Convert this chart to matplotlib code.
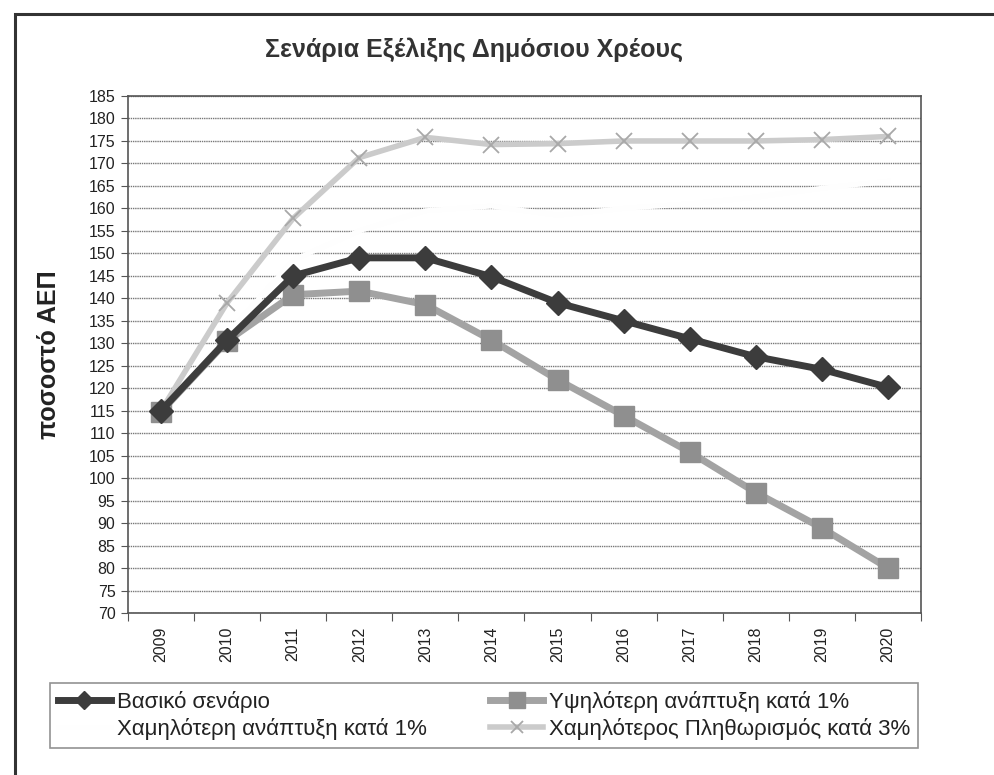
import matplotlib
matplotlib.use("Agg")
import matplotlib.pyplot as plt
from matplotlib.patches import Rectangle
import numpy as np

plt.rcParams['font.family'] = ['Liberation Sans', 'DejaVu Sans']

years = ['2009', '2010', '2011', '2012', '2013', '2014', '2015', '2016', '2017', '2018', '2019', '2020']
basic = [115, 130.7, 145, 149, 149, 144.8, 139, 135, 131, 127, 124.2, 120.2]
higher_growth = [114.8, 130.5, 140.8, 141.6, 138.6, 130.7, 121.9, 113.9, 105.8, 96.8, 88.9, 80]
lower_growth = [115, 132, 148.5, 155, 159.5, 160.5, 158.5, 160, 161, 162.5, 164.5, 166]
lower_inflation = [115, 139, 157.8, 171.3, 175.8, 174.2, 174.4, 175, 175, 175, 175.3, 176]

labels = ['Βασικό σενάριο', 'Υψηλότερη ανάπτυξη κατά 1%',
          'Χαμηλότερη ανάπτυξη κατά 1%', 'Χαμηλότερος Πληθωρισμός κατά 3%']
title = 'Σενάρια Εξέλιξης Δημόσιου Χρέους'
ylabel = 'ποσοστό ΑΕΠ'

W, H = 994, 775
fig = plt.figure(figsize=(W / 100, H / 100), dpi=100)
fig.patch.set_facecolor('white')

# outer frame of the chart
fig.patches.append(Rectangle((15 / W, -0.1), 1.2, 1 - 14 / H + 0.1, transform=fig.transFigure,
                             fill=False, edgecolor='#333333', linewidth=2.2, clip_on=False))

ax = fig.add_axes([128 / W, 1 - 613 / H, (921 - 128) / W, (613 - 96) / H])
x = np.arange(len(years))

ax.set_ylim(70, 185)
ax.set_xlim(-0.5, len(years) - 0.5)
ax.set_yticks(np.arange(70, 186, 5))
ax.yaxis.grid(True, color='#777777', linestyle=(0, (1, 0.6)), linewidth=1.0)
ax.set_axisbelow(True)

l_inf, = ax.plot(x, lower_inflation, color='#cbcbcb', linewidth=4, marker='x', markersize=11,
                 markeredgewidth=1.3, markeredgecolor='#a8a8a8', zorder=3)
l_low, = ax.plot(x, lower_growth, color='#fefefe', linewidth=3.5, zorder=2.5)
l_high, = ax.plot(x, higher_growth, color='#a3a3a3', linewidth=5, marker='s', markersize=14,
                  markerfacecolor='#8f8f8f', markeredgecolor='#8f8f8f', zorder=4)
l_basic, = ax.plot(x, basic, color='#3c3c3c', linewidth=5, marker='D', markersize=12,
                   markerfacecolor='#3c3c3c', markeredgecolor='#3c3c3c', zorder=5)

# x ticks: marks at category boundaries, labels at centres
ax.set_xticks(np.arange(-0.5, len(years), 1.0))
ax.set_xticklabels([])
ax.set_xticks(x, minor=True)
ax.set_xticklabels(years, minor=True, rotation=90, fontsize=11.5, color='#222222')
ax.tick_params(axis='x', which='major', length=6, color='#555555', direction='out')
ax.tick_params(axis='x', which='minor', length=0, pad=10)
ax.tick_params(axis='y', length=5, color='#555555', labelsize=11.5, labelcolor='#222222', pad=4)

for s in ax.spines.values():
    s.set_color('#555555')
    s.set_linewidth(1.2)

ax.set_ylabel(ylabel, fontsize=18, fontweight='bold', color='#222222', labelpad=20)

fig.text(474 / W, 1 - 50 / H, title, ha='center', va='center', fontsize=18,
         fontweight='bold', color='#333333')

leg = fig.legend([l_basic, l_low, l_high, l_inf], [labels[0], labels[2], labels[1], labels[3]],
                 ncol=2, loc='lower left', mode='expand',
                 bbox_to_anchor=(50 / W, 1 - 748 / H, 868 / W, 66 / H),
                 fontsize=16, frameon=True, fancybox=False, edgecolor='#777777',
                 handlelength=2.4, handletextpad=0.25, borderaxespad=0, borderpad=0.35,
                 labelspacing=0.25, columnspacing=1.0, markerscale=0.8)
leg.get_frame().set_linewidth(1.2)
for t in leg.get_texts():
    t.set_color('#222222')

fig.savefig('out.png', dpi=100, facecolor='white')
